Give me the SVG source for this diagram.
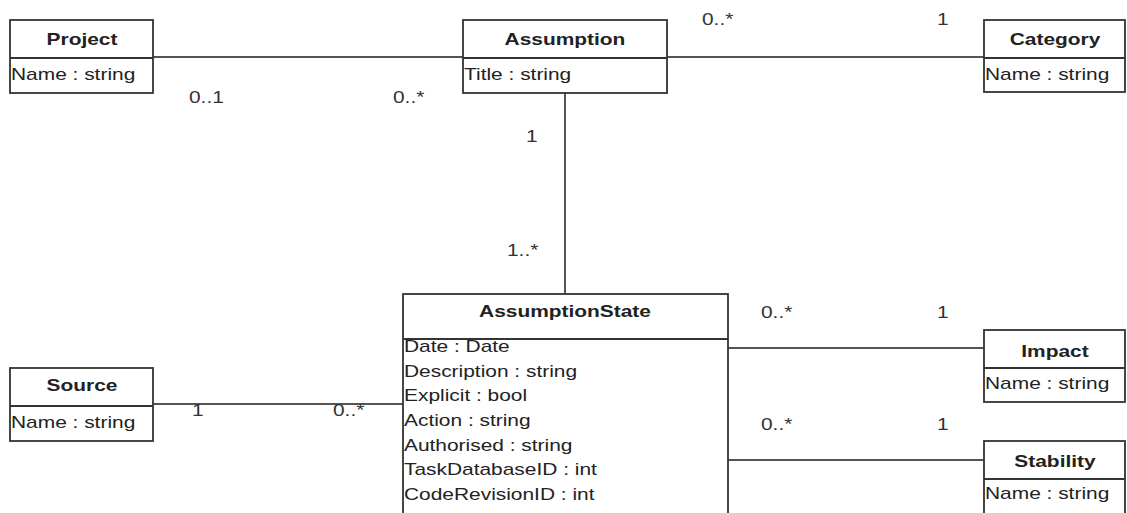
<svg xmlns="http://www.w3.org/2000/svg" width="1127" height="513" viewBox="0 0 1127 513">
<style>
  .box { fill: #ffffff; stroke: #333333; stroke-width: 1.8; }
  .div { stroke: #333333; stroke-width: 1.8; }
  .conn { stroke: #555555; stroke-width: 2; fill: none; }
  text { font-family: "Liberation Sans", Arial, sans-serif; font-size: 17px; fill: #222222; }
  .hdr { font-weight: bold; text-anchor: middle; }
  .lbl { fill: #333333; }
</style>
<rect width="1127" height="513" fill="#ffffff"/>
<g id="connectors">
  <line class="conn" x1="153" y1="57" x2="463" y2="57"/>
  <line class="conn" x1="667" y1="57" x2="984" y2="57"/>
  <line class="conn" x1="565" y1="93" x2="565" y2="294"/>
  <line class="conn" x1="153" y1="404" x2="403" y2="404"/>
  <line class="conn" x1="728" y1="348" x2="984" y2="348"/>
  <line class="conn" x1="728" y1="460" x2="984" y2="460"/>
  <text class="lbl" transform="translate(189 103) scale(1.23 1)">0..1</text>
  <text class="lbl" transform="translate(393 103) scale(1.23 1)">0..*</text>
  <text class="lbl" transform="translate(702 25) scale(1.23 1)">0..*</text>
  <text class="lbl" transform="translate(937 25) scale(1.23 1)">1</text>
  <text class="lbl" transform="translate(526 142) scale(1.23 1)">1</text>
  <text class="lbl" transform="translate(507 256) scale(1.23 1)">1..*</text>
  <text class="lbl" transform="translate(761 318) scale(1.23 1)">0..*</text>
  <text class="lbl" transform="translate(937 318) scale(1.23 1)">1</text>
  <text class="lbl" transform="translate(761 430) scale(1.23 1)">0..*</text>
  <text class="lbl" transform="translate(937 430) scale(1.23 1)">1</text>
  <text class="lbl" transform="translate(192 416) scale(1.23 1)">1</text>
  <text class="lbl" transform="translate(333 416) scale(1.23 1)">0..*</text>
</g>
<g id="project">
  <rect class="box" x="10" y="20" width="143" height="73"/>
  <line class="div" x1="10" y1="58" x2="153" y2="58"/>
  <text class="hdr" transform="translate(82 45) scale(1.23 1)">Project</text>
  <text transform="translate(11 80) scale(1.23 1)">Name : string</text>
</g>
<g id="assumption">
  <rect class="box" x="463" y="20" width="204" height="73"/>
  <line class="div" x1="463" y1="58" x2="667" y2="58"/>
  <text class="hdr" transform="translate(565 45) scale(1.23 1)">Assumption</text>
  <text transform="translate(464 80) scale(1.23 1)">Title : string</text>
</g>
<g id="category">
  <rect class="box" x="984" y="20" width="141" height="72"/>
  <line class="div" x1="984" y1="58" x2="1125" y2="58"/>
  <text class="hdr" transform="translate(1055 45) scale(1.23 1)">Category</text>
  <text transform="translate(985 80) scale(1.23 1)">Name : string</text>
</g>
<g id="assumptionstate">
  <rect class="box" x="403" y="294" width="325" height="230"/>
  <line class="div" x1="403" y1="339" x2="728" y2="339"/>
  <text class="hdr" transform="translate(565 317) scale(1.23 1)">AssumptionState</text>
  <text transform="translate(404 352) scale(1.23 1)">Date : Date</text>
  <text transform="translate(404 376.5) scale(1.23 1)">Description : string</text>
  <text transform="translate(404 401) scale(1.23 1)">Explicit : bool</text>
  <text transform="translate(404 426) scale(1.23 1)">Action : string</text>
  <text transform="translate(404 450.5) scale(1.23 1)">Authorised : string</text>
  <text transform="translate(404 475) scale(1.23 1)">TaskDatabaseID : int</text>
  <text transform="translate(404 500) scale(1.23 1)">CodeRevisionID : int</text>
</g>
<g id="source">
  <rect class="box" x="10" y="368" width="143" height="73"/>
  <line class="div" x1="10" y1="406" x2="153" y2="406"/>
  <text class="hdr" transform="translate(82 391) scale(1.23 1)">Source</text>
  <text transform="translate(11 428) scale(1.23 1)">Name : string</text>
</g>
<g id="impact">
  <rect class="box" x="984" y="330" width="141" height="72"/>
  <line class="div" x1="984" y1="368" x2="1125" y2="368"/>
  <text class="hdr" transform="translate(1055 357) scale(1.23 1)">Impact</text>
  <text transform="translate(985 389) scale(1.23 1)">Name : string</text>
</g>
<g id="stability">
  <rect class="box" x="984" y="441" width="141" height="80"/>
  <line class="div" x1="984" y1="479" x2="1125" y2="479"/>
  <text class="hdr" transform="translate(1055 467) scale(1.23 1)">Stability</text>
  <text transform="translate(985 499) scale(1.23 1)">Name : string</text>
</g>
</svg>
